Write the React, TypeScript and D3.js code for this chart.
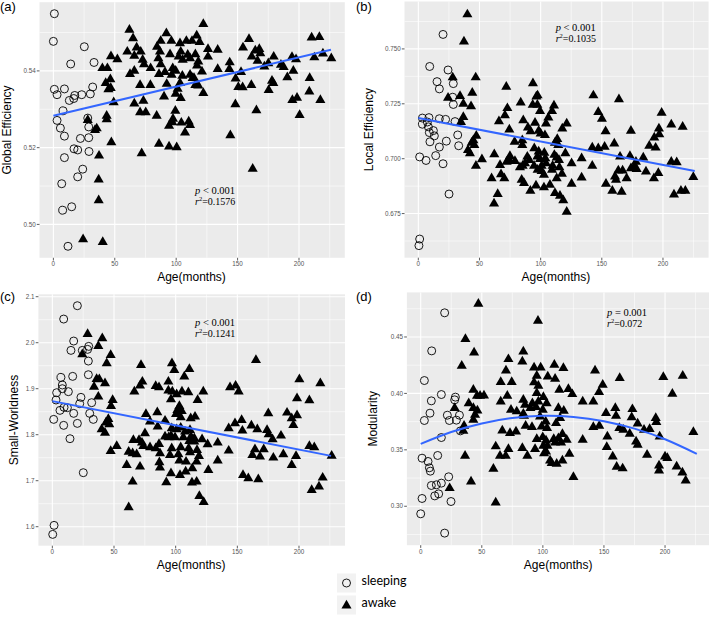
import React, { useEffect } from "react";
import * as d3 from "d3";

// ---------- shared axis values ----------
const ageTicks = [0, 50, 100, 150, 200];
const ageMinor = [25, 75, 125, 175, 225];
const ageLimits = [-11.3, 237.3];

// ---------- (a) Global Efficiency ----------
const globalTicks = [0.5, 0.52, 0.54];
const globalTickLabels = ["0.50", "0.52", "0.54"];
const globalMinor = [0.49, 0.51, 0.53, 0.55];
const globalLimits = [0.4913, 0.5579];
const globalFit = [[0, 0.5283], [226, 0.5455]];
const globalSleeping = [[0.8,0.5549],[0,0.5477],[25.2,0.5463],[14.1,0.5418],[33.1,0.5422],[0.8,0.5352],[3.0,0.5338],[9.0,0.5353],[23.1,0.5338],[30.1,0.534],[32.0,0.5358],[17.4,0.5336],[16.6,0.5328],[13.0,0.5323],[7.9,0.5296],[3.0,0.5271],[5.7,0.5251],[9.0,0.523],[28.0,0.5277],[28.8,0.5254],[22.0,0.5224],[28.8,0.5226],[16.8,0.5197],[19.8,0.5194],[29.0,0.519],[9.0,0.5174],[23.9,0.5144],[19.8,0.5124],[6.8,0.5106],[7.6,0.5037],[14.9,0.5046],[11.9,0.4943]];
const globalAwake = [[61.9,0.5507],[64.9,0.5485],[122.1,0.5522],[92.0,0.5498],[87.4,0.5478],[96.1,0.5478],[116.7,0.5492],[108.3,0.5478],[112.9,0.5478],[119.1,0.5475],[103.1,0.5472],[125.9,0.5457],[133.8,0.5455],[67.8,0.5461],[71.1,0.545],[60.2,0.545],[84.4,0.5463],[86.8,0.545],[95.0,0.5443],[103.7,0.545],[109.4,0.5442],[115.6,0.5443],[125.9,0.5437],[46.9,0.5438],[52.1,0.543],[65.9,0.5439],[72.7,0.5429],[73.8,0.5417],[85.5,0.5433],[87.4,0.5417],[102.0,0.5437],[105.3,0.5429],[111.3,0.5433],[118.0,0.5424],[117.0,0.5414],[39.9,0.5407],[44.0,0.5407],[65.9,0.54],[62.4,0.5392],[79.2,0.5407],[86.0,0.5392],[90.9,0.5397],[97.2,0.5407],[99.6,0.54],[96.3,0.539],[105.0,0.5387],[111.3,0.539],[114.5,0.5381],[121.0,0.5398],[133.8,0.5405],[46.4,0.5378],[42.6,0.5368],[46.7,0.5355],[44.8,0.5352],[70.6,0.5363],[79.0,0.5363],[92.3,0.5366],[103.1,0.5368],[113.4,0.5381],[115.6,0.5363],[118.0,0.5362],[101.2,0.5353],[99.6,0.534],[103.7,0.5329],[90.1,0.5333],[122.1,0.5342],[49.1,0.5318],[65.9,0.5315],[73.3,0.5322],[70.6,0.5292],[75.2,0.5292],[84.1,0.5283],[99.3,0.5296],[97.4,0.5275],[96.9,0.5266],[104.2,0.5265],[110.2,0.5268],[111.3,0.5259],[94.2,0.5257],[107.2,0.5239],[43.4,0.5283],[43.4,0.5274],[35.3,0.525],[33.9,0.5246],[47.2,0.5214],[86.0,0.521],[94.2,0.5203],[100.4,0.5201],[71.9,0.5185],[37.2,0.5179],[159.3,0.5483],[154.4,0.5461],[164.4,0.5453],[167.7,0.5457],[168.5,0.5446],[161.5,0.5437],[166.3,0.5426],[143.6,0.5422],[143.3,0.5405],[152.8,0.5397],[171.8,0.5411],[175.0,0.542],[179.4,0.5437],[185.3,0.5416],[187.5,0.541],[194.3,0.5436],[197.6,0.543],[195.4,0.54],[190.5,0.5383],[210.3,0.5487],[216.6,0.5488],[212.5,0.5435],[219.5,0.5445],[226.3,0.5433],[148.4,0.538],[150.6,0.5358],[154.1,0.5357],[161.2,0.5363],[178.0,0.5374],[179.1,0.5368],[175.3,0.535],[208.7,0.5381],[208.4,0.5346],[217.4,0.5324],[194.6,0.5324],[198.4,0.533],[148.2,0.5313],[165.3,0.5297],[200.5,0.5285],[144.1,0.5232],[162.3,0.5145],[24.2,0.4961],[40.2,0.4954],[36.9,0.5117],[36.9,0.5063],[28.0,0.5272]];

// ---------- (b) Local Efficiency ----------
const localTicks = [0.675, 0.7, 0.725, 0.75];
const localTickLabels = ["0.675", "0.700", "0.725", "0.750"];
const localMinor = [0.6625, 0.6875, 0.7125, 0.7375, 0.7625];
const localLimits = [0.6549, 0.7716];
const localFit = [[0, 0.7185], [226, 0.6944]];
const localSleeping = [[20.2,0.7566],[9.3,0.742],[24.3,0.7404],[15.3,0.7351],[17.2,0.7318],[28.6,0.7342],[28.1,0.728],[28.6,0.7247],[3.3,0.7185],[8.7,0.7187],[3.3,0.7157],[7.4,0.7167],[8.2,0.7145],[17.2,0.7182],[12.3,0.7128],[13.1,0.7104],[9.0,0.7119],[22.3,0.7179],[30.0,0.7169],[32.2,0.7108],[22.9,0.708],[9.5,0.7077],[17.2,0.7053],[33.0,0.7059],[14.2,0.7014],[1.1,0.7008],[6.3,0.6992],[20.2,0.6977],[25.1,0.6839],[1.1,0.6634],[0.5,0.6604]];
const localAwake = [[40.1,0.7657],[37.3,0.7533],[28.1,0.737],[46.9,0.737],[44.1,0.73],[34.1,0.7285],[24.3,0.7277],[36.8,0.725],[43.1,0.7239],[36.8,0.719],[34.9,0.7167],[71.9,0.7327],[93.7,0.7343],[97.5,0.7288],[96.5,0.7283],[83.7,0.7256],[93.5,0.7245],[97.3,0.7245],[72.8,0.723],[99.5,0.7217],[110.9,0.7242],[109.3,0.7217],[70.8,0.7197],[65.9,0.717],[85.8,0.7175],[95.4,0.7163],[106.3,0.7187],[104.4,0.716],[121.3,0.716],[74.4,0.7133],[89.6,0.7142],[91.8,0.7125],[98.4,0.7127],[100.0,0.7114],[103.5,0.7107],[117.7,0.7137],[113.6,0.7089],[111.7,0.7072],[114.4,0.7062],[47.4,0.7104],[45.0,0.7084],[43.6,0.7072],[45.8,0.7062],[40.6,0.7039],[42.2,0.7024],[78.7,0.7077],[85.0,0.7084],[85.0,0.7062],[94.8,0.7047],[98.4,0.7032],[103.0,0.7027],[111.2,0.7017],[120.2,0.7024],[89.1,0.7009],[90.7,0.6994],[74.9,0.7012],[62.1,0.702],[97.3,0.7009],[99.5,0.6998],[103.8,0.7002],[113.1,0.7005],[115.0,0.6994],[52.0,0.6997],[47.1,0.6967],[66.8,0.6971],[72.2,0.6986],[74.9,0.6989],[79.0,0.6989],[83.1,0.6961],[85.3,0.6967],[87.2,0.6979],[94.6,0.6967],[100.8,0.6967],[104.4,0.6979],[109.8,0.6967],[115.3,0.6961],[125.3,0.6979],[97.5,0.6949],[100.8,0.6944],[109.3,0.6949],[117.4,0.6931],[67.6,0.6929],[70.3,0.6911],[59.9,0.6911],[102.7,0.6926],[113.1,0.6911],[84.5,0.6904],[86.4,0.6889],[96.2,0.6877],[107.6,0.6881],[102.7,0.6869],[125.3,0.6886],[91.6,0.6854],[111.7,0.6843],[115.8,0.6831],[118.5,0.681],[64.9,0.6839],[61.9,0.6795],[121.3,0.6758],[143.1,0.7288],[164.0,0.727],[147.1,0.7212],[150.1,0.7182],[198.9,0.7209],[153.1,0.7125],[173.8,0.7127],[196.7,0.7137],[197.0,0.7111],[206.8,0.7155],[216.1,0.7145],[192.9,0.7096],[160.2,0.7069],[188.8,0.7059],[194.0,0.705],[142.2,0.7051],[147.1,0.7047],[152.3,0.7054],[133.5,0.7002],[164.9,0.7009],[173.0,0.7012],[183.9,0.7005],[177.9,0.6986],[142.2,0.6967],[206.8,0.6986],[211.2,0.6983],[176.6,0.6964],[173.8,0.6956],[178.5,0.6953],[163.5,0.6946],[167.0,0.6946],[186.1,0.6941],[196.2,0.6934],[160.8,0.6919],[161.6,0.6904],[170.3,0.6911],[192.6,0.6911],[133.5,0.6914],[153.4,0.6886],[158.6,0.6854],[166.2,0.6849],[224.8,0.6916],[209.0,0.6836],[214.7,0.6854],[218.3,0.6854]];

// ---------- (c) Small-Worldness ----------
const smallTicks = [1.6, 1.7, 1.8, 1.9, 2.0, 2.1];
const smallTickLabels = ["1.6", "1.7", "1.8", "1.9", "2.0", "2.1"];
const smallMinor = [1.65, 1.75, 1.85, 1.95, 2.05];
const smallLimits = [1.5587, 2.1052];
const smallFit = [[0, 1.873], [226, 1.754]];
const smallSleeping = [[20.3,2.0804],[9.2,2.0514],[17.3,2.0036],[15.1,1.9833],[24.3,1.9833],[28.6,1.9855],[29.5,1.992],[29.2,1.9601],[29.2,1.9304],[7.0,1.9246],[16.5,1.9268],[8.1,1.908],[8.1,1.9],[3.5,1.8913],[13.0,1.8935],[23.2,1.8812],[22.2,1.8674],[31.9,1.8696],[3.0,1.8754],[6.2,1.8529],[9.5,1.8594],[12.2,1.8587],[17.3,1.8464],[1.1,1.8333],[30.3,1.8464],[33.2,1.8333],[9.2,1.8203],[20.3,1.8246],[14.3,1.7913],[25.1,1.7174],[1.4,1.6029],[0.3,1.5833]];
const smallAwake = [[28.6,2.0188],[40.5,2.0094],[24.3,1.9746],[37.3,1.9928],[47.3,1.9732],[44.1,1.9551],[71.9,1.9514],[97.0,1.9551],[98.9,1.9406],[111.1,1.9428],[107.0,1.9261],[73.0,1.9152],[71.1,1.9065],[35.9,1.921],[38.1,1.9203],[42.7,1.9116],[33.8,1.9043],[66.5,1.8935],[83.8,1.9058],[86.5,1.9029],[94.1,1.9152],[94.1,1.8957],[97.3,1.8935],[100.8,1.8877],[105.1,1.8935],[110.3,1.892],[122.4,1.8935],[96.2,1.8768],[117.8,1.8754],[37.3,1.8826],[48.9,1.8754],[47.6,1.8623],[103.0,1.8623],[104.9,1.8514],[101.4,1.8536],[100.3,1.8449],[75.9,1.8449],[85.1,1.8486],[104.1,1.8377],[112.2,1.8355],[115.7,1.8391],[45.4,1.8341],[43.5,1.8261],[46.2,1.8225],[40.0,1.8116],[42.7,1.8043],[79.2,1.8283],[85.4,1.8174],[91.4,1.8304],[96.8,1.8138],[100.8,1.8116],[104.1,1.8152],[107.6,1.8065],[111.6,1.8101],[96.2,1.7978],[91.4,1.7957],[94.3,1.7942],[99.5,1.7942],[106.2,1.7942],[112.4,1.7957],[115.1,1.792],[75.1,1.8029],[111.1,1.7862],[115.1,1.7848],[121.4,1.7899],[125.9,1.779],[134.1,1.7826],[65.7,1.7884],[70.3,1.7884],[72.7,1.7826],[73.8,1.7754],[79.2,1.7725],[86.5,1.7797],[83.8,1.7703],[87.3,1.7594],[96.8,1.7703],[104.1,1.7725],[110.5,1.7703],[111.6,1.7616],[117.3,1.7667],[61.9,1.763],[65.1,1.7594],[68.4,1.7572],[52.2,1.7754],[47.3,1.7645],[95.4,1.7558],[102.2,1.7572],[118.9,1.7536],[103.0,1.7435],[117.0,1.7413],[60.3,1.7341],[71.1,1.7304],[86.8,1.7399],[87.3,1.7283],[108.4,1.7413],[134.1,1.7435],[96.2,1.7159],[103.5,1.7123],[108.1,1.7196],[113.5,1.7268],[126.5,1.7232],[65.1,1.6978],[92.4,1.6964],[113.2,1.6957],[117.0,1.6978],[119.2,1.6667],[122.7,1.6536],[61.9,1.642],[165.1,1.9623],[200.3,1.9203],[217.3,1.9116],[144.1,1.9029],[148.6,1.9065],[151.1,1.8935],[198.4,1.879],[208.4,1.8746],[175.1,1.8464],[190.3,1.8478],[194.1,1.8355],[198.4,1.842],[195.4,1.821],[143.0,1.8138],[148.1,1.8246],[153.5,1.8319],[154.1,1.8087],[161.4,1.8196],[166.2,1.8116],[174.1,1.8101],[175.4,1.8007],[185.4,1.7978],[178.6,1.7899],[208.4,1.7754],[212.4,1.7725],[226.5,1.7543],[143.0,1.7652],[164.3,1.7681],[171.4,1.7681],[162.2,1.7558],[168.4,1.7522],[179.2,1.75],[187.3,1.7572],[197.6,1.7536],[194.1,1.7341],[154.6,1.7123],[158.9,1.7051],[167.0,1.7029],[219.2,1.7065],[216.2,1.687],[210.3,1.6797]];

// ---------- (d) Modularity ----------
const modTicks = [0.3, 0.35, 0.4, 0.45];
const modTickLabels = ["0.30", "0.35", "0.40", "0.45"];
const modMinor = [0.275, 0.325, 0.375, 0.425, 0.475];
const modLimits = [0.2655, 0.4895];
const modFit = [[0,0.3553],[25,0.3658],[50,0.3734],[75,0.3782],[100,0.3801],[125,0.3792],[150,0.3754],[175,0.3688],[200,0.3594],[226,0.3465]];
const modSleeping = [[19.6,0.4714],[9.0,0.4377],[3.0,0.4114],[16.9,0.399],[8.7,0.3934],[7.6,0.3825],[3.0,0.376],[21.8,0.3807],[23.5,0.376],[28.4,0.3967],[27.8,0.3943],[29.2,0.3763],[31.7,0.3807],[32.5,0.3668],[16.9,0.3609],[1.1,0.3426],[6.0,0.3397],[7.1,0.3341],[7.9,0.3311],[13.9,0.345],[22.9,0.3261],[8.7,0.3184],[12.8,0.319],[16.9,0.3205],[11.5,0.3092],[14.7,0.311],[1.1,0.3069],[24.8,0.3042],[0,0.2933],[19.6,0.2762]];
const modAwake = [[47.2,0.4794],[96.0,0.4643],[36.6,0.4481],[43.7,0.4362],[84.0,0.4371],[33.6,0.4244],[71.8,0.4303],[83.2,0.4283],[69.8,0.4203],[92.8,0.4229],[98.2,0.4229],[109.4,0.4253],[116.8,0.4224],[142.7,0.4203],[95.0,0.4156],[104.0,0.415],[110.0,0.4129],[65.5,0.41],[74.5,0.41],[92.8,0.4097],[96.3,0.4067],[149.0,0.4076],[43.1,0.4032],[46.1,0.3978],[48.6,0.3978],[51.8,0.3981],[70.9,0.3978],[95.0,0.4002],[100.4,0.3967],[113.5,0.4032],[120.9,0.4038],[124.1,0.3993],[146.0,0.4011],[39.3,0.3913],[65.5,0.3928],[84.0,0.3943],[85.4,0.3899],[91.4,0.3913],[96.3,0.3928],[103.1,0.3913],[132.6,0.3928],[141.3,0.3928],[73.9,0.3854],[78.6,0.384],[84.0,0.3819],[89.8,0.3869],[94.4,0.3878],[99.9,0.3854],[112.7,0.3869],[117.1,0.3846],[43.1,0.3869],[46.4,0.3848],[44.5,0.381],[43.1,0.3766],[35.5,0.3713],[34.9,0.3668],[84.6,0.3801],[97.7,0.3795],[114.1,0.3781],[102.3,0.3751],[110.8,0.3736],[85.9,0.3713],[91.1,0.3701],[99.0,0.3707],[103.4,0.3692],[141.3,0.3701],[146.2,0.3713],[66.8,0.3671],[73.1,0.3648],[78.0,0.3662],[95.0,0.3595],[99.9,0.3612],[102.6,0.3583],[108.9,0.3595],[112.7,0.3603],[116.0,0.3639],[119.5,0.3589],[132.6,0.3589],[100.4,0.3535],[103.7,0.3535],[110.0,0.3565],[114.9,0.3565],[61.4,0.353],[71.8,0.3506],[83.2,0.3515],[93.6,0.3506],[102.6,0.3485],[87.3,0.3447],[121.7,0.3465],[64.9,0.3447],[69.6,0.3447],[36.3,0.3447],[101.0,0.347],[105.9,0.3405],[107.2,0.3382],[111.3,0.3376],[116.0,0.3405],[59.5,0.3332],[125.0,0.3258],[41.2,0.3219],[61.4,0.3033],[27.8,0.3869],[23.7,0.316],[162.9,0.4135],[198.6,0.4144],[214.5,0.4156],[206.0,0.3996],[151.7,0.3825],[159.3,0.3869],[159.9,0.3801],[173.3,0.386],[172.7,0.3789],[177.6,0.3733],[162.6,0.3692],[165.9,0.3677],[171.1,0.3642],[176.3,0.3574],[177.6,0.3544],[192.4,0.3781],[192.9,0.3745],[185.3,0.3456],[195.6,0.3618],[195.1,0.3361],[195.1,0.3317],[200.0,0.3441],[201.9,0.3426],[209.5,0.3352],[214.2,0.3299],[216.9,0.3228],[223.2,0.3657],[157.2,0.3441],[160.4,0.3349],[165.3,0.3335],[152.8,0.3618],[152.3,0.3524],[182.8,0.3677],[187.4,0.3683]];

// ---------- annotations / legend ----------
const pTexts = ["< 0.001", "< 0.001", "< 0.001", "= 0.001"];
const r2Texts = ["0.1576", "0.1035", "0.1241", "0.072"];
const panelLabels = ["(a)", "(b)", "(c)", "(d)"];
const yTitles = ["Global Efficiency", "Local Efficiency", "Small-Worldness", "Modularity"];
const xTitle = "Age(months)";
const legendLabels = ["sleeping", "awake"];

const SANS = "'Liberation Sans', Arial, sans-serif";
const SERIF = "'Liberation Serif', 'Times New Roman', serif";

type PanelProps = {
  id: string;
  l: number; r: number; t: number; b: number;
  yLimits: number[]; yTicks: number[]; yTickLabels: string[]; yMinor: number[];
  sleeping: number[][]; awake: number[][]; fit: number[][]; curved?: boolean;
  label: string; labelX: number; labelY: number;
  yTitle: string; yTitleX: number;
  pText: string; r2Text: string; annX: number; annY: number;
};

const triPath = d3.symbol().type(d3.symbolTriangle).size(44)() as string;

function Panel(p: PanelProps) {
  const x = d3.scaleLinear().domain(ageLimits).range([p.l, p.r]);
  const y = d3.scaleLinear().domain(p.yLimits).range([p.b, p.t]);
  const line = d3
    .line<number[]>()
    .x((d) => x(d[0]))
    .y((d) => y(d[1]))
    .curve(p.curved ? d3.curveNatural : d3.curveLinear);
  const cy = (p.t + p.b) / 2;
  return (
    <g>
      <rect x={p.l} y={p.t} width={p.r - p.l} height={p.b - p.t} fill="#EBEBEB" />
      {p.yMinor.map((v) => (
        <line key={"ym" + v} x1={p.l} x2={p.r} y1={y(v)} y2={y(v)} stroke="#fff" strokeWidth={0.55} />
      ))}
      {ageMinor.map((v) => (
        <line key={"xm" + v} x1={x(v)} x2={x(v)} y1={p.t} y2={p.b} stroke="#fff" strokeWidth={0.55} />
      ))}
      {p.yTicks.map((v) => (
        <line key={"yM" + v} x1={p.l} x2={p.r} y1={y(v)} y2={y(v)} stroke="#fff" strokeWidth={1.1} />
      ))}
      {ageTicks.map((v) => (
        <line key={"xM" + v} x1={x(v)} x2={x(v)} y1={p.t} y2={p.b} stroke="#fff" strokeWidth={1.1} />
      ))}
      {p.sleeping.map((d, i) => (
        <circle key={"s" + i} cx={x(d[0])} cy={y(d[1])} r={4} fill="none" stroke="#000" strokeWidth={0.9} />
      ))}
      {p.awake.map((d, i) => (
        <path key={"a" + i} d={triPath} transform={`translate(${x(d[0])},${y(d[1])})`} fill="#000" />
      ))}
      <path d={line(p.fit) as string} fill="none" stroke="#3366FF" strokeWidth={2} />
      {p.yTicks.map((v, i) => (
        <g key={"yt" + v}>
          <line x1={p.l - 2.7} x2={p.l} y1={y(v)} y2={y(v)} stroke="#333" strokeWidth={0.8} />
          <text x={p.l - 3.8} y={y(v)} dy="0.35em" textAnchor="end" fontFamily={SANS} fontSize={6.3} fill="#555">
            {p.yTickLabels[i]}
          </text>
        </g>
      ))}
      {ageTicks.map((v) => (
        <g key={"xt" + v}>
          <line x1={x(v)} x2={x(v)} y1={p.b} y2={p.b + 2.7} stroke="#333" strokeWidth={0.8} />
          <text x={x(v)} y={p.b + 8.6} textAnchor="middle" fontFamily={SANS} fontSize={6.3} fill="#555">
            {v}
          </text>
        </g>
      ))}
      <text x={x(112.5)} y={p.b + 23.5} textAnchor="middle" fontFamily={SANS} fontSize={12} fill="#000">
        {xTitle}
      </text>
      <text
        transform={`translate(${p.yTitleX},${cy}) rotate(-90)`}
        textAnchor="middle"
        fontFamily={SANS}
        fontSize={12}
        fill="#000"
      >
        {p.yTitle}
      </text>
      <text x={p.labelX} y={p.labelY} fontFamily={SANS} fontSize={13} fill="#000">
        {p.label}
      </text>
      <text x={p.annX} y={p.annY} fontFamily={SERIF} fontSize={10.5} fill="#000">
        <tspan fontStyle="italic">p</tspan>
        <tspan> {p.pText}</tspan>
      </text>
      <text x={p.annX} y={p.annY + 10.8} fontFamily={SERIF} fontSize={10} fill="#000">
        <tspan fontStyle="italic">r</tspan>
        <tspan dy={-4} fontSize={6.5}>2</tspan>
        <tspan dy={4}>={p.r2Text}</tspan>
      </text>
    </g>
  );
}

export default function App() {
  useEffect(() => {
    document.body.style.margin = "0";
  }, []);
  return (
    <svg
      width={709}
      height={621}
      viewBox="0 0 709 621"
      style={{ position: "absolute", left: 0, top: 0, background: "#fff", display: "block" }}
    >
      <rect x={0} y={0} width={709} height={621} fill="#fff" />
      <Panel
        id="a" l={39.5} r={344.8} t={2.2} b={257.8}
        yLimits={globalLimits} yTicks={globalTicks} yTickLabels={globalTickLabels} yMinor={globalMinor}
        sleeping={globalSleeping} awake={globalAwake} fit={globalFit}
        label={panelLabels[0]} labelX={0} labelY={11}
        yTitle={yTitles[0]} yTitleX={11}
        pText={pTexts[0]} r2Text={r2Texts[0]} annX={195} annY={194}
      />
      <Panel
        id="b" l={404.5} r={708.6} t={1.5} b={257.7}
        yLimits={localLimits} yTicks={localTicks} yTickLabels={localTickLabels} yMinor={localMinor}
        sleeping={localSleeping} awake={localAwake} fit={localFit}
        label={panelLabels[1]} labelX={356} labelY={11}
        yTitle={yTitles[1]} yTitleX={373}
        pText={pTexts[1]} r2Text={r2Texts[1]} annX={555.7} annY={31}
      />
      <Panel
        id="c" l={38.4} r={345} t={294.3} b={545.7}
        yLimits={smallLimits} yTicks={smallTicks} yTickLabels={smallTickLabels} yMinor={smallMinor}
        sleeping={smallSleeping} awake={smallAwake} fit={smallFit}
        label={panelLabels[2]} labelX={0} labelY={301}
        yTitle={yTitles[2]} yTitleX={18}
        pText={pTexts[2]} r2Text={r2Texts[2]} annX={195} annY={326}
      />
      <Panel
        id="d" l={406.9} r={710.6} t={292.4} b={545.2}
        yLimits={modLimits} yTicks={modTicks} yTickLabels={modTickLabels} yMinor={modMinor}
        sleeping={modSleeping} awake={modAwake} fit={modFit} curved
        label={panelLabels[3]} labelX={356} labelY={301}
        yTitle={yTitles[3]} yTitleX={376.5}
        pText={pTexts[3]} r2Text={r2Texts[3]} annX={607} annY={316}
      />
      <g>
        <rect x={337} y={573.5} width={19} height={19} fill="#F2F2F2" />
        <circle cx={346.5} cy={583} r={4} fill="none" stroke="#000" strokeWidth={0.9} />
        <rect x={337} y={595.5} width={19} height={19} fill="#F2F2F2" />
        <path d={triPath} transform="translate(346.5,605.5)" fill="#000" />
        <text x={361.5} y={585} fontFamily="Lato, 'Open Sans', sans-serif" fontSize={12.5} fill="#000">
          {legendLabels[0]}
        </text>
        <text x={361.5} y={606.5} fontFamily="Lato, 'Open Sans', sans-serif" fontSize={12.5} fill="#000">
          {legendLabels[1]}
        </text>
      </g>
    </svg>
  );
}
